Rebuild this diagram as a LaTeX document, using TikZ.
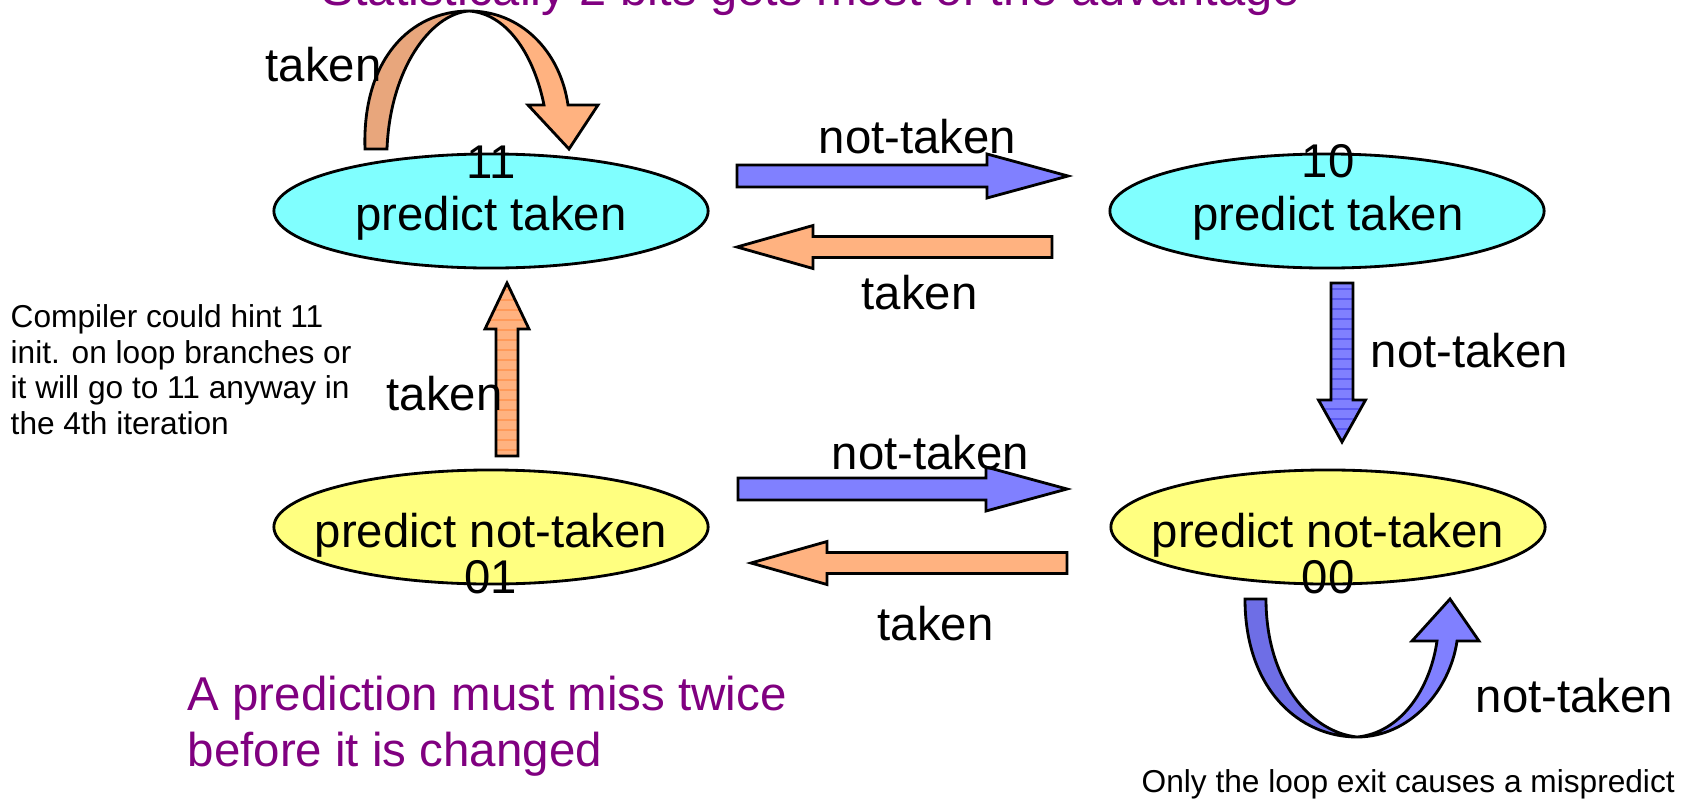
\documentclass[tikz,border=0pt]{standalone}
\usepackage{fontspec}
\setmainfont{Liberation Sans}
\usetikzlibrary{shapes.geometric}
\definecolor{stcyan}{HTML}{80FFFF}
\definecolor{styellow}{HTML}{FFFF80}
\definecolor{tkorange}{HTML}{FFB280}
\definecolor{tkorangedk}{HTML}{E8A67C}
\definecolor{tkstripe}{HTML}{FF9A5A}
\definecolor{ntblue}{HTML}{8080FF}
\definecolor{ntbluedk}{HTML}{6E6EE6}
\definecolor{ntstripe}{HTML}{5A5AF0}
\definecolor{notepurple}{HTML}{800080}
% outline of a block arrow along the local x axis:
% length, shaft half width, head length, head half width
\newcommand{\arrowoutline}[4]{(0,-#2) -- ({#1-#3},-#2) -- ({#1-#3},-#4) -- (#1,0)
  -- ({#1-#3},#4) -- ({#1-#3},#2) -- (0,#2) -- cycle}
% block arrow: style, start x, start y, direction, length, shaft half width, head length, head half width
\newcommand{\blockarrow}[8]{%
  \begin{scope}[shift={(#2,#3)}, rotate=#4]
    \draw[#1] \arrowoutline{#5}{#6}{#7}{#8};
  \end{scope}}
% the same, with thin cross stripes in the given colour
\newcommand{\stripedarrow}[9]{%
  \begin{scope}[shift={(#2,#3)}, rotate=#4]
    \fill[#1, draw=none] \arrowoutline{#5}{#6}{#7}{#8};
    \begin{scope}
      \clip \arrowoutline{#5}{#6}{#7}{#8};
      \foreach \s in {6,16,...,#5}
        \draw[#9, line width=0.35pt] (\s,-30) -- (\s,30);
    \end{scope}
    \draw[#1, fill=none] \arrowoutline{#5}{#6}{#7}{#8};
  \end{scope}}
\begin{document}
\begin{tikzpicture}[x=0.01cm, y=-0.01cm,
  state/.style={ellipse, draw=black, line width=0.8pt, minimum width=4.34cm,
    minimum height=1.14cm, inner sep=0pt},
  lbl/.style={font=\fontsize{13.46}{16}\selectfont, inner sep=0pt},
  note/.style={font=\fontsize{9}{10.1}\selectfont, inner sep=0pt, align=left},
  bignote/.style={font=\fontsize{13.5}{15.93}\selectfont, text=notepurple,
    inner sep=0pt, align=left},
  arrtaken/.style={draw=black, line width=0.8pt, fill=tkorange, line join=miter},
  arrnottaken/.style={draw=black, line width=0.8pt, fill=ntblue, line join=miter},
  looptakendk/.style={draw=black, line width=0.8pt, fill=tkorangedk},
  looptaken/.style={draw=black, line width=0.8pt, fill=tkorange},
  loopnottakendk/.style={draw=black, line width=0.8pt, fill=ntbluedk},
  loopnottaken/.style={draw=black, line width=0.8pt, fill=ntblue}]
\useasboundingbox (0,0) rectangle (1682,800);
\clip (0,0) rectangle (1682,800);

% heading, partly cut by the top edge
\node[font=\fontsize{13.9}{16}\selectfont, inner sep=0pt, text=notepurple,
  anchor=base west] (head) at (321,5)
  {Statistically 2 bits gets most of the advantage};

% the four states
\node[state, fill=stcyan]   (s11) at (491,211) {};
\node[state, fill=stcyan]   (s10) at (1327,211) {};
\node[state, fill=styellow] (s01) at (491,527) {};
\node[state, fill=styellow] (s00) at (1328,527) {};

\node[lbl, anchor=base] (s11a) at (491,178) {11};
\node[lbl, anchor=base] (s11b) at (491,230) {predict taken};
\node[lbl, anchor=base] (s10a) at (1328,177) {10};
\node[lbl, anchor=base] (s10b) at (1328,230) {predict taken};
\node[lbl, anchor=base] (s01b) at (491,547) {predict not-taken};
\node[lbl, anchor=base] (s01a) at (491,593) {01};
\node[lbl, anchor=base] (s00b) at (1328,547) {predict not-taken};
\node[lbl, anchor=base] (s00a) at (1328,593) {00};

% transitions between states
\blockarrow{arrnottaken}{737}{176}{0}{331}{11}{81}{22}
\blockarrow{arrtaken}{1052}{247}{180}{315}{10.5}{76}{21.5}
\stripedarrow{arrnottaken}{1342}{283}{-90}{159}{11}{42}{23.5}{ntstripe}
\stripedarrow{arrtaken}{507}{456}{90}{173}{11}{46}{22}{tkstripe}
\blockarrow{arrnottaken}{738}{489}{0}{329}{11}{81}{22}
\blockarrow{arrtaken}{1067}{563}{180}{316}{10.5}{76}{21.5}

% self loop on 11
\draw[looptakendk] (365,149) .. controls (362,60) and (410,11) .. (469,11)
  .. controls (430,14) and (390,70) .. (387,149) -- cycle;
\draw[looptaken] (469,11) .. controls (520,11) and (560,50) .. (568,105)
  -- (598,105) -- (569,149) -- (528,105) -- (544,105)
  .. controls (535,60) and (510,14) .. (469,11) -- cycle;

% self loop on 00
\draw[loopnottakendk] (1245,599) .. controls (1245,690) and (1300,737) .. (1357,737)
  .. controls (1310,732) and (1266,680) .. (1266,599) -- cycle;
\draw[loopnottaken] (1357,737) .. controls (1410,737) and (1450,690) .. (1457,641)
  -- (1479,641) -- (1450,599) -- (1412,641) -- (1437,641)
  .. controls (1430,690) and (1400,733) .. (1357,737) -- cycle;

% transition labels
\node[lbl, anchor=base west] (l1) at (265,81) {taken};
\node[lbl, anchor=base west] (l2) at (818,153) {not-taken};
\node[lbl, anchor=base west] (l3) at (861,309) {taken};
\node[lbl, anchor=base west] (l4) at (1370,367) {not-taken};
\node[lbl, anchor=base west] (l5) at (386,410) {taken};
\node[lbl, anchor=base west] (l6) at (831,469) {not-taken};
\node[lbl, anchor=base west] (l7) at (877,640) {taken};
\node[lbl, anchor=base west] (l8) at (1475,712) {not-taken};

% side notes
\node[note, anchor=north west] (hint) at (10,304)
  {Compiler could hint 11\\init. on loop branches or\\it will go to 11 anyway in\\the 4th iteration};
\node[bignote, anchor=north west] (twice) at (187,675)
  {A prediction must miss twice\\before it is changed};
\node[note, anchor=base west] (exit) at (1141,792)
  {Only the loop exit causes a mispredict};
\end{tikzpicture}
\end{document}
